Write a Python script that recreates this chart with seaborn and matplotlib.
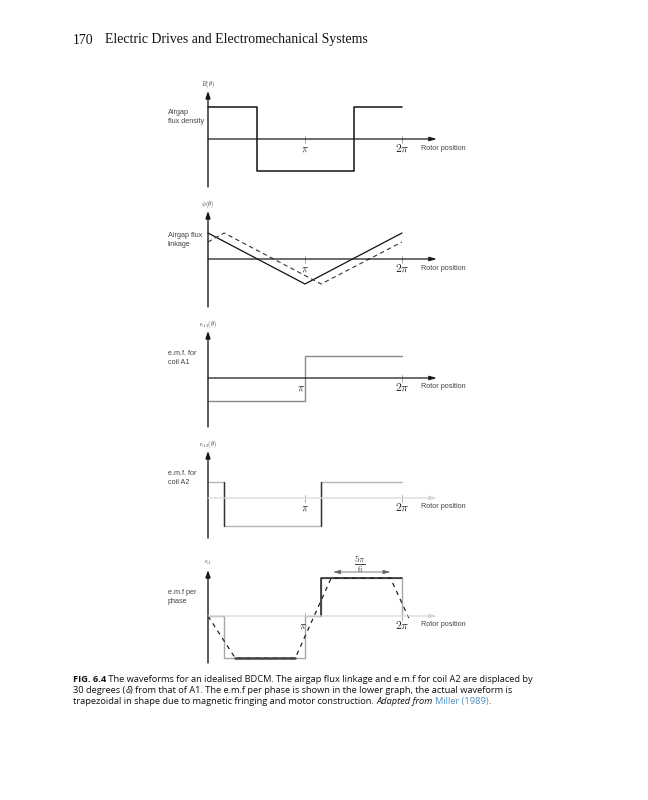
import numpy as np
import pandas as pd
import matplotlib
matplotlib.use("Agg")
import matplotlib.pyplot as plt
from matplotlib.text import Annotation
import seaborn as sns

# ---------------- data (theta in units of pi, values in drawing units) -------------
b_theta = [0, 0.5, 0.5, 1.5, 1.5, 2.0]
b_val = [32, 32, -32, -32, 32, 32]

psi1_theta = [0, 1, 2]
psi1_val = [26, -25, 26]
psi2_theta = [0, 1/6, 7/6, 2]
psi2_val = [17, 26, -25, 17]

ea1_theta = [0, 1, 1, 2]
ea1_val = [-23, -23, 22, 22]

ea2_theta = [0, 1/6, 1/6, 7/6, 7/6, 2]
ea2_val = [16, 16, -28, -28, 16, 16]

ea_theta = [0, 1/6, 1/6, 1, 1, 7/6, 7/6, 2, 2]
ea_val = [0, 0, -42, -42, 0, 0, 38, 38, 0]

trap_theta = [0, 0.28, 0.90, 1.27, 1.88, 2.07]
trap_val = [0, -42, -42, 38, 38, -2]

tick_labels = [r"$\pi$", r"$2\pi$"]
tick_pos = [1, 2]

sns.set_theme(style="white")
plt.rcParams["mathtext.fontset"] = "cm"
plt.rcParams["font.family"] = ["Liberation Sans", "DejaVu Sans"]

W, H = 648, 800
fig = plt.figure(figsize=(W / 100, H / 100), dpi=100)
fig.patch.set_facecolor("white")

PX0, PX1 = 140, 480   # axes pixel extent
ORIG, UNIT = 208, 97  # pixel of theta=0, pixels per pi
X0 = (PX0 - ORIG) / UNIT
X1 = (PX1 - ORIG) / UNIT
LBL_X = (168 - ORIG) / UNIT


def panel(yT, yA, yB):
    ax = fig.add_axes([PX0 / W, 1 - yB / H, (PX1 - PX0) / W, (yB - yT) / H])
    ax.set_xlim(X0, X1)
    ax.set_ylim(yA - yB, yA - yT)
    ax.axis("off")
    return ax


def axes_decor(ax, ybot, ytop, ylabel, left_label, lbl_y, xcol="k", ticklabel_dx=(0, 0)):
    ax.annotate("", xy=(0, ytop), xytext=(0, ybot),
                arrowprops=dict(arrowstyle="-|>,head_length=0.35,head_width=0.12",
                                color="k", lw=1.0, shrinkA=0, shrinkB=0))
    ax.annotate("", xy=(2.36, 0), xytext=(0, 0),
                arrowprops=dict(arrowstyle="-|>,head_length=0.35,head_width=0.1",
                                color=xcol, lw=0.9, shrinkA=0, shrinkB=0))
    ax.text(0, ytop + 7, ylabel, ha="center", va="center", fontsize=4.5, color="#333")
    ax.text(LBL_X, lbl_y, left_label, ha="left", va="center", fontsize=5.2,
            color="#444", linespacing=1.3)
    for p, t, dx in zip(tick_pos, tick_labels, ticklabel_dx):
        ax.plot([p, p], [3, -4], color="#999", lw=0.6)
        ax.text(p + dx, -10, t, ha="center", va="center",
                fontsize=7.5 if p == 1 else 8.5, color="#222")
    ax.text(2.2, -9, "Rotor position", ha="left", va="center", fontsize=5.2, color="#444")


def line(ax, xs, ys, **kw):
    df = pd.DataFrame({"theta": xs, "val": ys})
    sns.lineplot(data=df, x="theta", y="val", ax=ax, sort=False, estimator=None, **kw)


# ---- panel 1: airgap flux density
ax1 = panel(75, 139, 195)
axes_decor(ax1, -48, 48, r"$B(\theta)$", "Airgap\nflux density", 22)
line(ax1, b_theta, b_val, color="#111", lw=1.1)

# ---- panel 2: flux linkage
ax2 = panel(195, 259, 312)
axes_decor(ax2, -48, 48, r"$\psi(\theta)$", "Airgap flux\nlinkage", 19)
line(ax2, psi1_theta, psi1_val, color="#111", lw=0.9)
line(ax2, psi2_theta, psi2_val, color="#333", lw=0.8, dashes=(4, 3))

# ---- panel 3: emf coil A1
ax3 = panel(315, 378, 432)
axes_decor(ax3, -49, 47, r"$e_{A1}(\theta)$", "e.m.f. for\ncoil A1", 20,
           ticklabel_dx=(-0.04, 0))
line(ax3, ea1_theta, ea1_val, color="#8a8a8a", lw=1.0)

# ---- panel 4: emf coil A2
ax4 = panel(435, 498, 545)
axes_decor(ax4, -40, 47, r"$e_{A2}(\theta)$", "e.m.f. for\ncoil A2", 20, xcol="#d8d8d8")
line(ax4, ea2_theta, ea2_val, color="#b5b5b5", lw=1.0)
vert4 = pd.DataFrame({"theta": [1/6, 1/6, 7/6, 7/6], "val": [16, -28, -28, 16],
                      "seg": [0, 0, 1, 1]})
sns.lineplot(data=vert4, x="theta", y="val", units="seg", estimator=None, sort=False,
             ax=ax4, color="#333", lw=1.0)

# ---- panel 5: emf per phase
ax5 = panel(550, 616, 672)
axes_decor(ax5, -47, 46, r"$e_{A}$", "e.m.f per\nphase", 19, xcol="#d8d8d8",
           ticklabel_dx=(-0.02, 0))
line(ax5, ea_theta, ea_val, color="#a8a8a8", lw=1.0)
upper5 = pd.DataFrame({"theta": [7/6, 7/6, 2], "val": [0, 38, 38]})
line(ax5, upper5["theta"], upper5["val"], color="#222", lw=1.1)
line(ax5, trap_theta, trap_val, color="#222", lw=0.9, dashes=(3.5, 3.5))
flat5 = pd.DataFrame({"theta": [trap_theta[1], trap_theta[2]], "val": [trap_val[1], trap_val[2]]})
line(ax5, flat5["theta"], flat5["val"], color="#444", lw=1.8)
ax5.annotate("", xy=(1.88, 44), xytext=(1.29, 44),
             arrowprops=dict(arrowstyle="<|-|>,head_length=0.35,head_width=0.1",
                             color="#666", lw=0.6, shrinkA=0, shrinkB=0))
ax5.text(1.567, 52, r"$\frac{5\pi}{6}$", ha="center", va="center", fontsize=9.5, color="#444")

# ---------------- page header ----------------
fig.text(73 / W, 1 - 40 / H, "170", fontsize=9.9, family="Liberation Serif",
         va="center", ha="left", color="#111")
fig.text(105 / W, 1 - 40 / H, "Electric Drives and Electromechanical Systems",
         fontsize=9.9, family="Liberation Serif", va="center", ha="left", color="#111")

# ---------------- caption ----------------
cap_fs = 6.7
cap_family = ["Open Sans", "DejaVu Sans"]


def chain(pieces, x, y):
    prev = None
    for txt, style in pieces:
        kw = dict(fontsize=cap_fs, family=cap_family, color="#111")
        kw.update(style)
        if prev is None:
            prev = fig.text(x, y, txt, va="bottom", ha="left", **kw)
        else:
            prev = fig.add_artist(Annotation(txt, xy=(1, 0), xycoords=prev,
                                             va="bottom", ha="left", **kw))
    return prev


chain([("FIG. 6.4", dict(weight="bold")),
       (" The waveforms for an idealised BDCM. The airgap flux linkage and e.m.f for coil A2 are displaced by", {})],
      73 / W, 1 - 684 / H)
chain([("30 degrees (", {}), ("δ", dict(style="italic")),
       (") from that of A1. The e.m.f per phase is shown in the lower graph, the actual waveform is", {})],
      73 / W, 1 - 695 / H)
chain([("trapezoidal in shape due to magnetic fringing and motor construction. ", {}),
       ("Adapted from ", dict(style="italic")),
       ("Miller (1989)", dict(color="#4a90c8")), (".", {})],
      73 / W, 1 - 706 / H)

fig.savefig("out.png", dpi=100, facecolor="white")
